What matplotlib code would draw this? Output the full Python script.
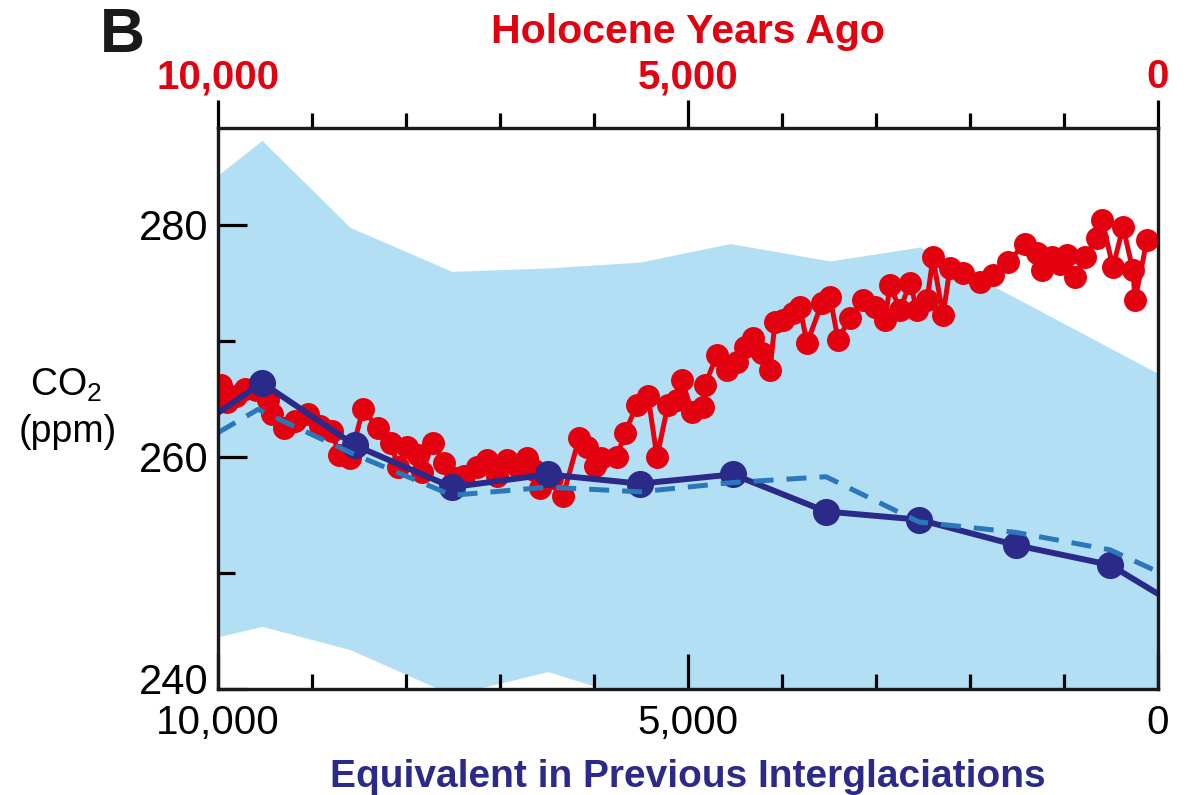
import numpy as np
import matplotlib.pyplot as plt
import matplotlib.transforms as mtransforms
from matplotlib.ticker import FixedLocator, FixedFormatter

plt.rcParams['font.family'] = ['Liberation Sans', 'DejaVu Sans']
plt.rcParams['mathtext.fontset'] = 'custom'
plt.rcParams['mathtext.rm'] = 'Liberation Sans'

# Holocene CO2 record (red), years ago / ppm
holo_years = [9968, 9904, 9809, 9713, 9596, 9468, 9426, 9298, 9181, 9043,
              8915, 8787, 8713, 8596, 8457, 8298, 8160, 8085, 7989, 7872,
              7830, 7713, 7596, 7479, 7383, 7245, 7138, 7032, 6926, 6819,
              6713, 6638, 6574, 6447, 6330, 6160, 6075, 5990, 5926, 5755,
              5670, 5543, 5426, 5330, 5213, 5117, 5064, 4957, 4840, 4819,
              4691, 4585, 4479, 4394, 4309, 4213, 4128, 4075, 3989, 3883,
              3809, 3734, 3574, 3489, 3404, 3277, 3138, 3011, 2904, 2851,
              2745, 2638, 2564, 2457, 2394, 2287, 2213, 2074, 1894, 1755,
              1596, 1415, 1287, 1234, 1128, 1043, 968, 883, 777, 649,
              596, 479, 372, 266, 245, 117]
holo_co2 = [266.2, 264.7, 265.3, 265.9, 265.8, 264.9, 263.7, 262.5, 263.1, 263.7,
            262.7, 262.2, 260.2, 259.9, 264.1, 262.5, 261.2, 259.1, 260.9, 260.2,
            258.7, 261.2, 259.5, 258.2, 258.4, 259.1, 259.7, 258.4, 259.7, 259.2,
            259.9, 258.9, 257.3, 258.2, 256.6, 261.6, 260.9, 259.2, 259.9, 260.0,
            262.1, 264.5, 265.3, 260.0, 264.5, 264.9, 266.6, 263.9, 264.3, 266.2,
            268.8, 267.5, 268.2, 269.5, 270.3, 269.0, 267.5, 271.6, 271.8, 272.4,
            272.9, 269.8, 273.3, 273.8, 270.1, 272.0, 273.5, 272.9, 271.8, 274.8,
            272.7, 275.0, 272.7, 273.5, 277.2, 272.2, 276.3, 275.9, 275.1, 275.7,
            276.8, 278.4, 277.6, 276.1, 277.2, 276.6, 277.4, 275.5, 277.2, 278.9,
            280.4, 276.4, 279.8, 276.1, 273.5, 278.7]

# previous interglaciations mean (solid navy)
ig_years = [10000, 9532, 8543, 7511, 6489, 5510, 4521, 3532, 2543, 1511, 511, 0]
ig_co2 = [263.8, 266.4, 261.0, 257.4, 258.5, 257.7, 258.5, 255.3, 254.6, 252.4, 250.7, 248.2]

# dashed series
dash_years = [10000, 9574, 8543, 7511, 6489, 5510, 4521, 3532, 2543, 1511, 511, 0]
dash_co2 = [262.1, 264.1, 260.2, 256.7, 257.4, 257.0, 257.8, 258.3, 254.4, 253.5, 252.0, 250.1]

# range band
band_years = [10000, 9532, 8596, 7511, 6489, 5510, 4553, 3489, 2532, 0]
band_hi = [284.3, 287.3, 279.8, 276.0, 276.3, 276.8, 278.4, 276.9, 278.1, 267.2]
band_lo = [244.5, 245.4, 243.4, 239.5, 241.5, 239.0, 237.0, 236.0, 235.0, 234.0]

red = '#e3000f'
navy = '#2b2a88'
dashc = '#2a78bb'
bandc = '#b3dff5'

fig = plt.figure(figsize=(11.88, 7.95), dpi=100)
ax = fig.add_axes([218/1188, 106/795, 940/1188, 561/795])

ax.fill_between(band_years, band_lo, band_hi, color=bandc, lw=0, zorder=1)
ax.plot(holo_years, holo_co2, color=red, lw=3.6, marker='o', ms=15.5,
        mec=red, zorder=3)
ax.plot(ig_years[1:-1], ig_co2[1:-1], ls='none', marker='o', ms=18.5,
        color=navy, zorder=4)
ax.plot(ig_years, ig_co2, color=navy, lw=4.3, zorder=4)
ax.plot(dash_years, dash_co2, color=dashc, lw=3.6, dashes=(4, 2.6), zorder=5)

ax.set_xlim(10000, 0)
ax.set_ylim(240, 288.36)

for s in ax.spines.values():
    s.set_linewidth(2.3)
    s.set_color('#1a1a1a')

ax.yaxis.set_major_locator(FixedLocator([240, 260, 280]))
ax.yaxis.set_minor_locator(FixedLocator([250, 270]))
ax.tick_params(axis='y', which='major', direction='in', length=21, width=2.3,
               labelsize=30, pad=7)
ax.tick_params(axis='y', which='minor', direction='in', length=12, width=2.3)
# lift the bottom "240" label clear of the x labels
ylabs = ax.get_yticklabels()
ylabs[0].set_transform(ylabs[0].get_transform() +
                       mtransforms.ScaledTranslation(0, 0.11, fig.dpi_scale_trans))

ax.xaxis.set_major_locator(FixedLocator([10000, 5000, 0]))
ax.xaxis.set_major_formatter(FixedFormatter(['10,000', '5,000', '0']))
ax.xaxis.set_minor_locator(FixedLocator([9000, 8000, 7000, 6000, 4000, 3000, 2000, 1000]))
ax.tick_params(axis='x', which='major', direction='in', length=25, width=2.3,
               labelsize=29, pad=11)
ax.tick_params(axis='x', which='minor', direction='in', length=11, width=2.3)
ax.tick_params(right=False, top=False)
ax.set_xlabel('Equivalent in Previous Interglaciations', fontsize=28,
              fontweight='bold', color=navy, labelpad=12)

ax2 = ax.twiny()
ax2.set_xlim(10000, 0)
ax2.xaxis.set_major_locator(FixedLocator([10000, 5000, 0]))
ax2.xaxis.set_major_formatter(FixedFormatter(['10,000', '5,000', '0']))
ax2.xaxis.set_minor_locator(FixedLocator([9000, 8000, 7000, 6000, 4000, 3000, 2000, 1000]))
ax2.tick_params(axis='x', which='major', direction='out', length=20, width=2.3,
                labelsize=29, pad=3, labelcolor=red)
ax2.tick_params(axis='x', which='minor', direction='out', length=11, width=2.3)
for lab in ax2.get_xticklabels():
    lab.set_fontweight('bold')
ax2.set_xlabel('Holocene Years Ago', fontsize=29.5, fontweight='bold',
               color=red, labelpad=11)
for s in ax2.spines.values():
    s.set_linewidth(2.3)
    s.set_color('#1a1a1a')

fig.text(100/1188, 1 - 36/795, 'B', fontsize=45, fontweight='bold',
         ha='left', va='center', color='#1a1a1a')
fig.text(66/1188, 1 - 385/795, 'CO$_2$', fontsize=27, ha='center', va='center')
fig.text(68/1188, 1 - 432/795, '(ppm)', fontsize=27, ha='center', va='center')

fig.savefig('out.png', dpi=100)
